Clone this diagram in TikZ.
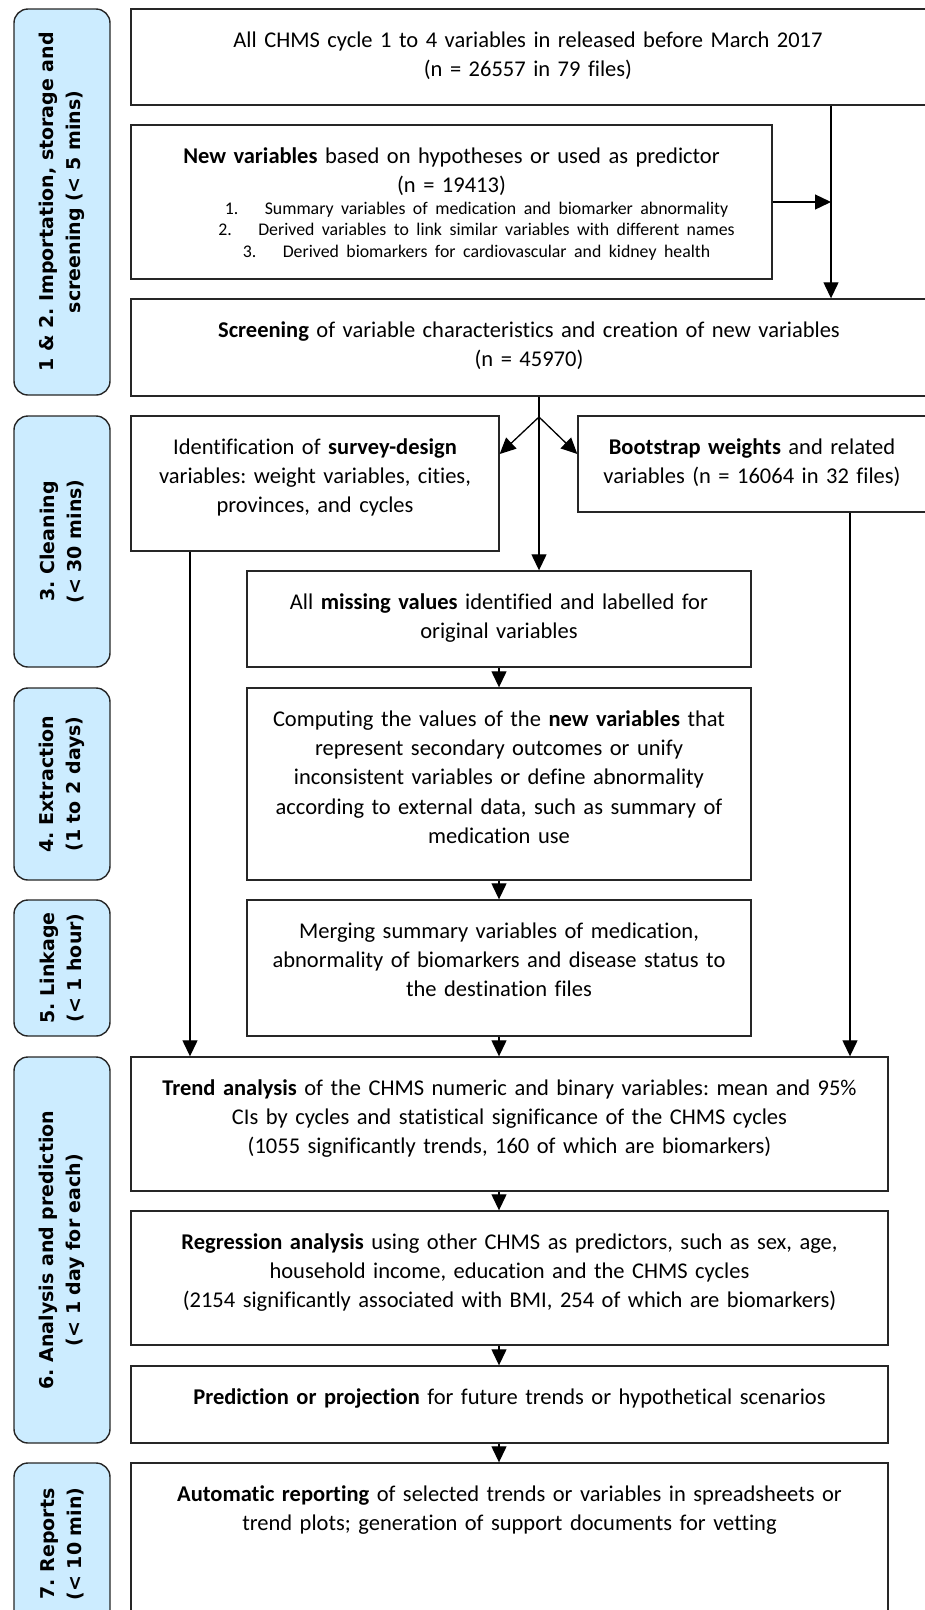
\documentclass[tikz,border=0pt]{standalone}
\usepackage{fontspec}
\setmainfont{Carlito}[Ligatures=NoCommon]
\newfontfamily\phasefont{DejaVu Sans}
\usepackage{tikz}
\usetikzlibrary{arrows.meta,calc}
\frenchspacing

\definecolor{phaseblue}{RGB}{204,236,255}

\begin{document}
\begin{tikzpicture}[x=1pt, y=-1pt]

        % Styles for the boxes, their texts and the phase labels
        \tikzset{
            box/.style={draw=black!85, line width=1.4pt, rectangle, inner sep=0pt},
            txt/.style={anchor=north, inner sep=0pt, align=center, text width=800pt,
                text height=17pt, font=\fontsize{22.5}{29.3}\selectfont},
            phase/.style={draw=black!85, line width=1.4pt, fill=phaseblue,
                rounded corners=14pt, rotate=90, minimum height=96pt, inner sep=0pt,
                align=center, font=\phasefont\bfseries\fontsize{19}{27}\selectfont},
            flow/.style={line width=1.3pt, -{Triangle[length=16pt, width=15pt]}}
        }

        % Fixes the page to the size of the figure
        \useasboundingbox (0, 0) rectangle (925, 1610);
        \clip (0, 0) rectangle (925, 1610);

        % Phase labels on the left, from top to bottom
        \node[phase, minimum width=386pt] (ph1) at (62, 202)
            {1 \& 2. Importation, storage and\\screening (< 5 mins)};
        \node[phase, minimum width=251pt] (ph3) at (62, 541.5)
            {3. Cleaning\\(< 30 mins)};
        \node[phase, minimum width=192pt] (ph4) at (62, 784)
            {4. Extraction\\(1 to 2 days)};
        \node[phase, minimum width=136pt] (ph5) at (62, 968)
            {5. Linkage\\(< 1 hour)};
        \node[phase, minimum width=386pt] (ph6) at (62, 1250)
            {6. Analysis and prediction\\(< 1 day for each)};
        \node[phase, minimum width=162pt] (ph7) at (62, 1544)
            {7. Reports\\(< 10 min)};

        % Frames of the steps (some run past the page edge)
        \node[box, minimum width=804pt, minimum height=96pt] (top) at (533, 57) {};
        \node[box, minimum width=641pt, minimum height=154pt] (newvar) at (451.5, 202) {};
        \node[box, minimum width=804pt, minimum height=97pt] (screen) at (533, 347.5) {};
        \node[box, minimum width=368pt, minimum height=135pt] (survey) at (315, 483.5) {};
        \node[box, minimum width=357pt, minimum height=96pt] (boot) at (756.5, 464) {};
        \node[box, minimum width=504pt, minimum height=96pt] (missing) at (499, 619) {};
        \node[box, minimum width=504pt, minimum height=192pt] (compute) at (499, 784) {};
        \node[box, minimum width=504pt, minimum height=136pt] (merge) at (499, 968) {};
        \node[box, minimum width=757pt, minimum height=134pt] (trend) at (509.5, 1124) {};
        \node[box, minimum width=757pt, minimum height=134pt] (regress) at (509.5, 1278) {};
        \node[box, minimum width=757pt, minimum height=77pt] (predict) at (509.5, 1404.5) {};
        \node[box, minimum width=757pt, minimum height=162pt] (report) at (509.5, 1544) {};

        % Texts of the steps, hung from the top of each frame
        \node[txt] (topT) at (528, 30)
            {All CHMS cycle 1 to 4 variables in released before March 2017\\
            (n = 26557 in 79 files)};
        \node[txt] (newvarT) at (451.5, 146)
            {\textbf{New variables} based on hypotheses or used as predictor\\
            (n = 19413)\par
            {\fontsize{17.8}{21.5}\selectfont \advance\leftskip by 50pt
            \makebox[40pt][l]{1.}Summary variables of medication and biomarker abnormality\\
            \makebox[40pt][l]{2.}Derived variables to link similar variables with different names\\
            \makebox[40pt][l]{3.}Derived biomarkers for cardiovascular and kidney health\par}};
        \node[txt] (screenT) at (529, 320)
            {\textbf{Screening} of variable characteristics and creation of new variables\\
            (n = 45970)};
        \node[txt] (surveyT) at (315, 437)
            {Identification of \textbf{survey-design}\\
            variables: weight variables, cities,\\
            provinces, and cycles};
        \node[txt] (bootT) at (752, 437)
            {\textbf{Bootstrap weights} and related\\
            variables (n = 16064 in 32 files)};
        \node[txt] (missingT) at (499, 592)
            {All \textbf{missing values} identified and labelled for\\
            original variables};
        \node[txt] (computeT) at (499, 709)
            {Computing the values of the \textbf{new variables} that\\
            represent secondary outcomes or unify\\
            inconsistent variables or define abnormality\\
            according to external data, such as summary of\\
            medication use};
        \node[txt] (mergeT) at (499, 921)
            {Merging summary variables of medication,\\
            abnormality of biomarkers and disease status to\\
            the destination files};
        \node[txt] (trendT) at (509.5, 1078)
            {\textbf{Trend analysis} of the CHMS numeric and binary variables: mean and 95\%\\
            CIs by cycles and statistical significance of the CHMS cycles\\
            (1055 significantly trends, 160 of which are biomarkers)};
        \node[txt] (regressT) at (509.5, 1232)
            {\textbf{Regression analysis} using other CHMS as predictors, such as sex, age,\\
            household income, education and the CHMS cycles\\
            (2154 significantly associated with BMI, 254 of which are biomarkers)};
        \node[txt] (predictT) at (509.5, 1387)
            {\textbf{Prediction or projection} for future trends or hypothetical scenarios};
        \node[txt] (reportT) at (509.5, 1484)
            {\textbf{Automatic reporting} of selected trends or variables in spreadsheets or\\
            trend plots; generation of support documents for vetting};

        % Junctions of the connectors
        \coordinate (rail) at (831, 202);
        \coordinate (fork) at (539, 417);

        \begin{scope}[line width=1.3pt]
            \draw[flow] (top.south -| rail) -- (screen.north -| rail);
            \draw[flow] (newvar.east) -- (rail);

            \draw (screen.south -| fork) -- (fork);
            \draw[flow] (fork) -- (survey.east |- 0, 454);
            \draw[flow] (fork) -- (boot.west |- 0, 454);
            \draw[flow] (fork) -- (missing.north -| fork);

            \draw[flow] (missing.south) -- (compute.north);
            \draw[flow] (compute.south) -- (merge.north);
            \draw[flow] (merge.south) -- (merge.south |- trend.north);
            \draw[flow] (survey.south -| 190, 0) -- (trend.north -| 190, 0);
            \draw[flow] (boot.south -| 850, 0) -- (trend.north -| 850, 0);

            \draw[flow] (trend.south -| merge.south) -- (regress.north -| merge.south);
            \draw[flow] (regress.south -| merge.south) -- (predict.north -| merge.south);
            \draw[flow] (predict.south -| merge.south) -- (report.north -| merge.south);
        \end{scope}

\end{tikzpicture}
\end{document}
